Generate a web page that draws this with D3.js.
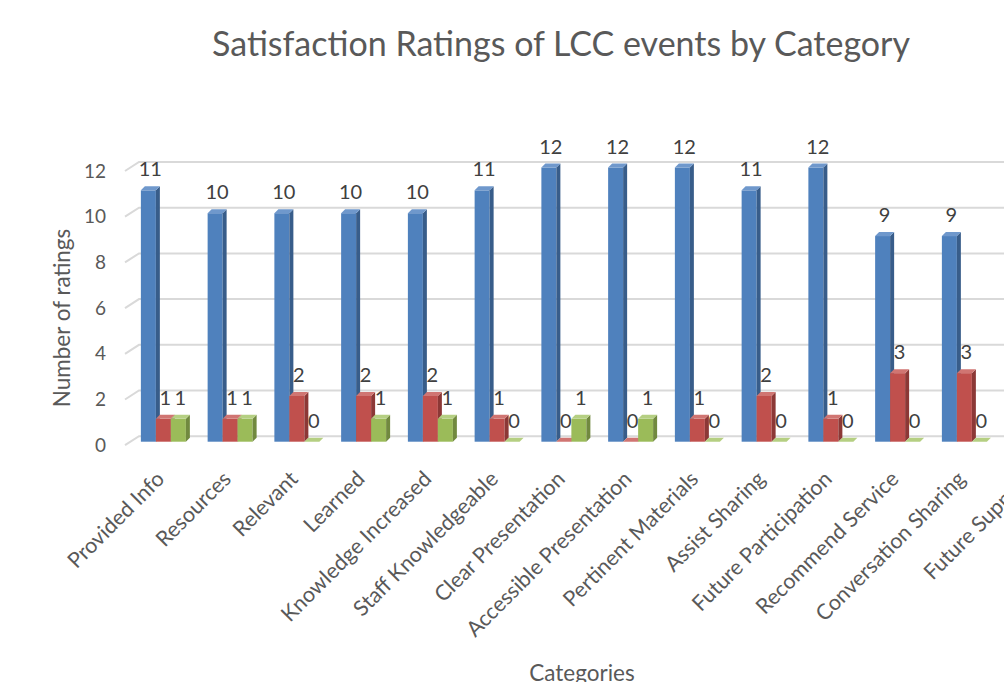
<!DOCTYPE html>
<meta charset="utf-8">
<style>
body{
	margin:0;
	overflow:hidden;
	background:#fff;
}
text{
	font-family:Lato, "Open Sans", sans-serif;
	fill:#595959;
}
.title{
	font-size:34px;
	text-anchor:middle;
}
.axisTitle{
	font-size:22.5px;
	text-anchor:middle;
}
.tick{
	font-size:19px;
	text-anchor:end;
}
.cat{
	font-size:21.5px;
	text-anchor:end;
}
.val{
	font-size:20px;
	fill:#404040;
	text-anchor:middle;
}
.grid{
	stroke:#d9d9d9;
	stroke-width:2px;
	fill:none;
}
</style>
<body>
<script src="https://cdnjs.cloudflare.com/ajax/libs/d3/7.8.5/d3.min.js"></script>
<script>

var categories = ["Provided Info", "Resources", "Relevant", "Learned", "Knowledge Increased",
	"Staff Knowledgeable", "Clear Presentation", "Accessible Presentation", "Pertinent Materials",
	"Assist Sharing", "Future Participation", "Recommend Service", "Conversation Sharing", "Future Support"];
var seriesNames = ["Series 1", "Series 2", "Series 3"];
var blueVals  = [11, 10, 10, 10, 10, 11, 12, 12, 12, 11, 12, 9, 9, 10];
var redVals   = [1, 1, 2, 2, 2, 1, 0, 0, 1, 2, 1, 3, 3, 1];
var greenVals = [1, 1, 0, 1, 1, 0, 1, 1, 0, 0, 0, 0, 0, 0];
var yTicks = [0, 2, 4, 6, 8, 10, 12];

// front / side / top colours per series
var fills = [
	{front:"#4f81bd", side:"#385d8a", top:"#6f98cc"},
	{front:"#c0504d", side:"#8c3836", top:"#d07572"},
	{front:"#9bbb59", side:"#71893f", top:"#b5cf82"}
];
var allVals = [blueVals, redVals, greenVals];

var W = 1120, H = 682;
var svg = d3.select("body").append("svg").attr("width", W).attr("height", H);

var x = d3.scaleBand().domain(categories).range([130, 1064.5])
	.paddingInner(0.326).paddingOuter(0.163);
var xs = d3.scaleBand().domain(seriesNames).range([0, x.bandwidth()]);
var y = d3.scaleLinear().domain([0, 12]).range([441.7, 167.5]);

var dx = 4, dy = -4;   // bar depth
var gx = 14, gy = -9;  // floor depth for gridlines

// gridlines
var grid = svg.append("g");
yTicks.forEach(function(v){
	var yf = y(v) + 3.5;
	grid.append("path").attr("class","grid")
		.attr("d", "M" + 125 + "," + yf + "L" + (125 + gx) + "," + (yf + gy) + "L" + W + "," + (yf + gy));
	svg.append("text").attr("class","tick")
		.attr("x", 106).attr("y", yf).attr("dy", "0.35em").text(v);
});

// bars
var bars = svg.append("g");
categories.forEach(function(c, ci){
	seriesNames.forEach(function(s, si){
		var v = allVals[si][ci];
		var x0 = x(c) + xs(s), bw = xs.bandwidth();
		var yt = y(v), yb = y(0);
		var f = fills[si];
		if (v > 0) {
			bars.append("rect").attr("x", x0).attr("y", yt)
				.attr("width", bw).attr("height", yb - yt).attr("fill", f.front);
			bars.append("polygon").attr("fill", f.side)
				.attr("points", [[x0 + bw, yt], [x0 + bw + dx, yt + dy], [x0 + bw + dx, yb + dy], [x0 + bw, yb]].join(" "));
		}
		bars.append("polygon").attr("fill", f.top)
			.attr("points", [[x0, yt], [x0 + bw, yt], [x0 + bw + dx, yt + dy], [x0 + dx, yt + dy]].join(" "));
		bars.append("text").attr("class","val")
			.attr("x", x0 + bw / 2 + 2).attr("y", yt - 14).text(v);
	});
});

// category labels
categories.forEach(function(c){
	var cx = x(c) + x.bandwidth() / 2;
	svg.append("text").attr("class","cat")
		.attr("transform", "translate(" + (cx - 3) + ",475) rotate(-45)")
		.attr("dy", "0.35em").text(c);
});

svg.append("text").attr("class","title").attr("x", 561).attr("y", 56)
	.text("Satisfaction Ratings of LCC events by Category");

svg.append("text").attr("class","axisTitle")
	.attr("transform", "translate(62,318) rotate(-90)").attr("dy", "0.35em")
	.text("Number of ratings");

svg.append("text").attr("class","axisTitle").attr("x", 582).attr("y", 681)
	.text("Categories");

</script>
</body>
</html>
